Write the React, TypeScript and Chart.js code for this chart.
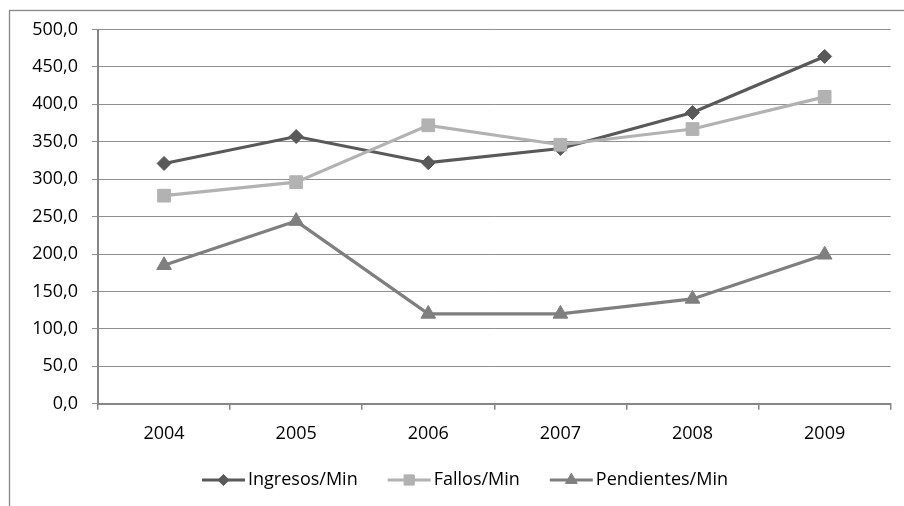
import React, { useEffect, useRef } from "react";
import { Chart, registerables } from "chart.js";

Chart.register(...registerables);

const categories = ["2004", "2005", "2006", "2007", "2008", "2009"];
const ingresos = [321, 357, 322, 341, 389, 464];
const fallos = [278, 296, 372, 346, 367, 410];
const pendientes = [185, 244, 120, 120, 140, 199];
const seriesNames = ["Ingresos/Min", "Fallos/Min", "Pendientes/Min"];
const yMin = 0;
const yMax = 500;
const yStep = 50;

const FONT = '"Open Sans", "DejaVu Sans", sans-serif';
const TEXT = "#000000";
const AXIS = "#868686";
const GRID = "#8f8f8f";

function drawMarker(ctx: CanvasRenderingContext2D, style: string, x: number, y: number, r: number, color: string) {
  ctx.beginPath();
  if (style === "rectRot") {
    ctx.moveTo(x, y - r);
    ctx.lineTo(x + r, y);
    ctx.lineTo(x, y + r);
    ctx.lineTo(x - r, y);
  } else if (style === "rect") {
    const s = r * Math.SQRT1_2;
    ctx.rect(x - s, y - s, 2 * s, 2 * s);
  } else {
    ctx.moveTo(x, y - r);
    ctx.lineTo(x + r * Math.sin((2 * Math.PI) / 3), y - r * Math.cos((2 * Math.PI) / 3));
    ctx.lineTo(x + r * Math.sin((4 * Math.PI) / 3), y - r * Math.cos((4 * Math.PI) / 3));
  }
  ctx.closePath();
  ctx.fillStyle = color;
  ctx.fill();
  ctx.strokeStyle = color;
  ctx.lineWidth = 1;
  ctx.stroke();
}

const framePlugin = {
  id: "frame",
  beforeDraw(chart: any) {
    const ctx = chart.ctx;
    ctx.save();
    ctx.fillStyle = "#ffffff";
    ctx.fillRect(0, 0, chart.width, chart.height);
    ctx.strokeStyle = AXIS;
    ctx.lineWidth = 1.3;
    ctx.strokeRect(9.5, 10.5, chart.width + 100, chart.height + 100);
    ctx.restore();
  },
};

const legendPlugin = {
  id: "excelLegend",
  afterDraw(chart: any) {
    const ctx: CanvasRenderingContext2D = chart.ctx;
    ctx.save();
    ctx.font = `18px ${FONT}`;
    ctx.textBaseline = "middle";
    ctx.textAlign = "left";
    const lineLen = 43;
    const textGap = 3;
    const itemGap = 30;
    const dss = chart.data.datasets;
    const widths = dss.map((ds: any) => lineLen + textGap + ctx.measureText(ds.label).width);
    const total = widths.reduce((a: number, b: number) => a + b, 0) + itemGap * (dss.length - 1);
    let x = 465 - total / 2;
    const y = 480;
    dss.forEach((ds: any, i: number) => {
      ctx.strokeStyle = ds.borderColor;
      ctx.lineWidth = ds.borderWidth;
      ctx.beginPath();
      ctx.moveTo(x, y);
      ctx.lineTo(x + lineLen, y);
      ctx.stroke();
      drawMarker(ctx, ds.pointStyle, x + lineLen / 2, y, ds.pointRadius * 0.8, ds.pointBackgroundColor);
      ctx.fillStyle = TEXT;
      ctx.fillText(ds.label, x + lineLen + textGap, y);
      x += widths[i] + itemGap;
    });
    ctx.restore();
  },
};

export default function App() {
  const ref = useRef<HTMLCanvasElement | null>(null);
  useEffect(() => {
    if (!ref.current) return;
    const chart = new Chart(ref.current, {
      type: "line",
      data: {
        labels: categories,
        datasets: [
          {
            label: seriesNames[0],
            data: ingresos,
            borderColor: "#595959",
            backgroundColor: "#595959",
            pointBackgroundColor: "#595959",
            pointBorderColor: "#595959",
            borderWidth: 3.2,
            pointStyle: "rectRot",
            pointRadius: 7,
            pointBorderWidth: 1,
            order: 3,
          },
          {
            label: seriesNames[1],
            data: fallos,
            borderColor: "#b2b2b2",
            backgroundColor: "#b2b2b2",
            pointBackgroundColor: "#b2b2b2",
            pointBorderColor: "#b2b2b2",
            borderWidth: 3.2,
            pointStyle: "rect",
            pointRadius: 9,
            pointBorderWidth: 1,
            order: 2,
          },
          {
            label: seriesNames[2],
            data: pendientes,
            borderColor: "#7f7f7f",
            backgroundColor: "#7f7f7f",
            pointBackgroundColor: "#7f7f7f",
            pointBorderColor: "#7f7f7f",
            borderWidth: 3.2,
            pointStyle: "triangle",
            pointRadius: 8.5,
            pointBorderWidth: 1,
            order: 1,
          },
        ],
      },
      options: {
        responsive: false,
        animation: false,
        layout: { padding: { left: 0, top: 29.5, right: 13.3, bottom: 0 } },
        plugins: {
          legend: { display: false },
          tooltip: { enabled: false },
        },
        scales: {
          x: {
            offset: true,
            grid: {
              offset: true,
              drawOnChartArea: false,
              drawTicks: true,
              tickLength: 6,
              color: AXIS,
              lineWidth: 1.5,
            },
            border: { color: AXIS, width: 2 },
            ticks: {
              color: TEXT,
              font: { family: FONT, size: 18 },
              padding: 13,
              maxRotation: 0,
            },
            afterFit: (scale: any) => {
              scale.height = 506 - 403.7;
            },
          },
          y: {
            min: yMin,
            max: yMax,
            grid: {
              color: GRID,
              lineWidth: 1,
              drawTicks: true,
              tickLength: 6,
            },
            border: { color: AXIS, width: 2 },
            ticks: {
              stepSize: yStep,
              color: TEXT,
              font: { family: FONT, size: 18 },
              padding: 14,
              callback: (v: any) => Number(v).toFixed(1).replace(".", ","),
            },
            afterFit: (scale: any) => {
              scale.width = 98;
            },
          },
        },
      },
      plugins: [framePlugin, legendPlugin],
    });
    return () => chart.destroy();
  }, []);
  return (
    <div style={{ position: "absolute", left: 0, top: 0, width: 904, height: 506 }}>
      <canvas ref={ref} width={904} height={506} />
    </div>
  );
}
